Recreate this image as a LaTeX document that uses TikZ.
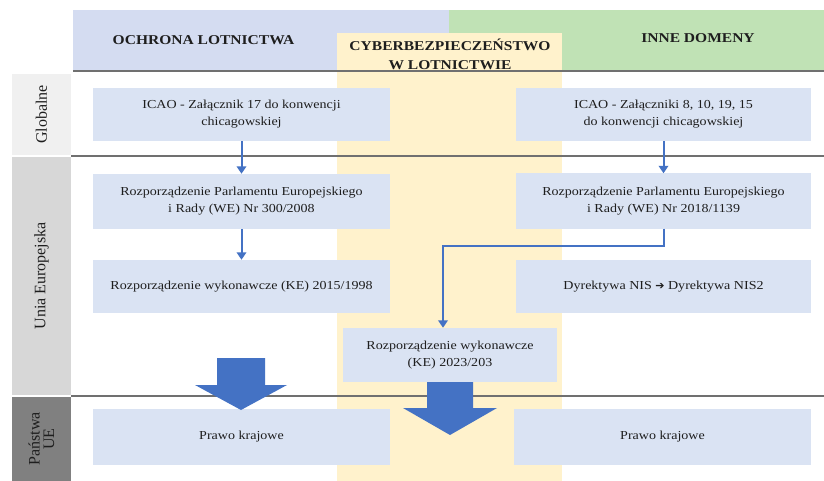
\documentclass[tikz,border=0pt]{standalone}
\usepackage{fontspec}
\setmainfont{Liberation Serif}[FakeStretch=1.15]
\newfontfamily\rotfont{Liberation Serif}
\newfontfamily\symfont{DejaVu Sans}
\usetikzlibrary{arrows.meta}
\definecolor{hdrblue}{HTML}{D4DCF1}
\definecolor{hdrgreen}{HTML}{C0E2B5}
\definecolor{colyellow}{HTML}{FFF2CC}
\definecolor{boxblue}{HTML}{DAE3F3}
\definecolor{arrowblue}{HTML}{4472C4}
\definecolor{rulegray}{HTML}{707070}
\definecolor{lblA}{HTML}{F0F0F0}
\definecolor{lblB}{HTML}{D7D7D7}
\definecolor{lblC}{HTML}{808080}
\definecolor{txt}{HTML}{1E1E1E}
\tikzset{
  box/.style={rectangle, fill=boxblue, text=txt, align=center, inner sep=0pt,
    font=\fontsize{12.2}{17}\selectfont},
  hdr/.style={text=txt, align=center, inner sep=0pt,
    font=\bfseries\fontsize{13.5}{19.5}\selectfont},
  lbl/.style={rectangle, rotate=90, text=txt, align=center, inner sep=0pt,
    font=\rotfont\fontsize{16}{15}\selectfont},
  rulel/.style={draw=rulegray, line width=1.3pt},
  thinarrow/.style={draw=arrowblue, line width=2pt, -{Triangle[length=7.5pt,width=9.5pt]}},
  bigarrow/.style={fill=arrowblue}
}
\begin{document}
\begin{tikzpicture}[x=1pt,y=-1pt]
\useasboundingbox (0,0) rectangle (824,481);
\fill[white] (0,0) rectangle (824,481);
% header bands
\fill[hdrblue] (73,10) rectangle (449,71);
\fill[hdrgreen] (449,10) rectangle (824,71);
\fill[colyellow] (337,33) rectangle (562,481);
% header texts
\node[hdr] (h1) at (203.5,40) {OCHRONA LOTNICTWA};
\node[hdr] (h2) at (450,54.5) {CYBERBEZPIECZEŃSTWO\\W LOTNICTWIE};
\node[hdr] (h3) at (698,38.5) {INNE DOMENY};
% rules
\draw[rulel] (73,71) -- (824,71);
\draw[rulel] (71,156) -- (824,156);
\draw[rulel] (71,396) -- (824,396);
% row labels
\node[lbl, fill=lblA, minimum width=81pt, minimum height=59pt] (gl) at (41.5,114.5) {Globalne};
\node[lbl, fill=lblB, minimum width=238pt, minimum height=59pt] (ue) at (41.5,276) {Unia Europejska};
\node[lbl, fill=lblC, minimum width=84pt, minimum height=59pt, font=\rotfont\fontsize{16}{14.5}\selectfont] (pu) at (41.5,439) {Państwa\\UE};
% boxes
\node[box, minimum width=297pt, minimum height=53pt] (icaoL) at (241.5,114.5) {ICAO - Załącznik 17 do konwencji\\chicagowskiej};
\node[box, minimum width=295pt, minimum height=53pt] (icaoR) at (663.5,114.5) {ICAO - Załączniki 8, 10, 19, 15\\do konwencji chicagowskiej};
\node[box, minimum width=297pt, minimum height=55pt] (rozL) at (241.5,201.5) {Rozporządzenie Parlamentu Europejskiego\\i Rady (WE) Nr 300/2008};
\node[box, minimum width=295pt, minimum height=55pt] (rozR) at (663.5,201) {Rozporządzenie Parlamentu Europejskiego\\i Rady (WE) Nr 2018/1139};
\node[box, minimum width=297pt, minimum height=53pt] (wykL) at (241.5,286.5) {Rozporządzenie wykonawcze (KE) 2015/1998};
\node[box, minimum width=295pt, minimum height=53pt] (nis) at (663.5,286.5) {Dyrektywa NIS {\symfont\fontsize{11}{11}\selectfont ➔} Dyrektywa NIS2};
\node[box, minimum width=214pt, minimum height=54pt] (wyk23) at (450,355) {Rozporządzenie wykonawcze\\(KE) 2023/203};
\node[box, minimum width=297pt, minimum height=56pt] (prL) at (241.5,437) {Prawo krajowe};
\node[box, minimum width=297pt, minimum height=56pt] (prR) at (662.5,437) {Prawo krajowe};
% thin connectors
\draw[thinarrow] (icaoL.south) -- (rozL.north);
\draw[thinarrow] (rozL.south) -- (wykL.north);
\draw[thinarrow] (icaoR.south) -- (rozR.north);
\coordinate (bend) at (443,246);
\draw[thinarrow] (rozR.south) |- (bend) -- ([xshift=-7pt]wyk23.north);
% block arrows
\fill[bigarrow] (217,358) -- (265,358) -- (265,385) -- (287,385) -- (241,410) -- (195,385) -- (217,385) -- cycle;
\fill[bigarrow] (427,382) -- (473,382) -- (473,408) -- (497,408) -- (450,435) -- (403,408) -- (427,408) -- cycle;
\end{tikzpicture}
\end{document}
